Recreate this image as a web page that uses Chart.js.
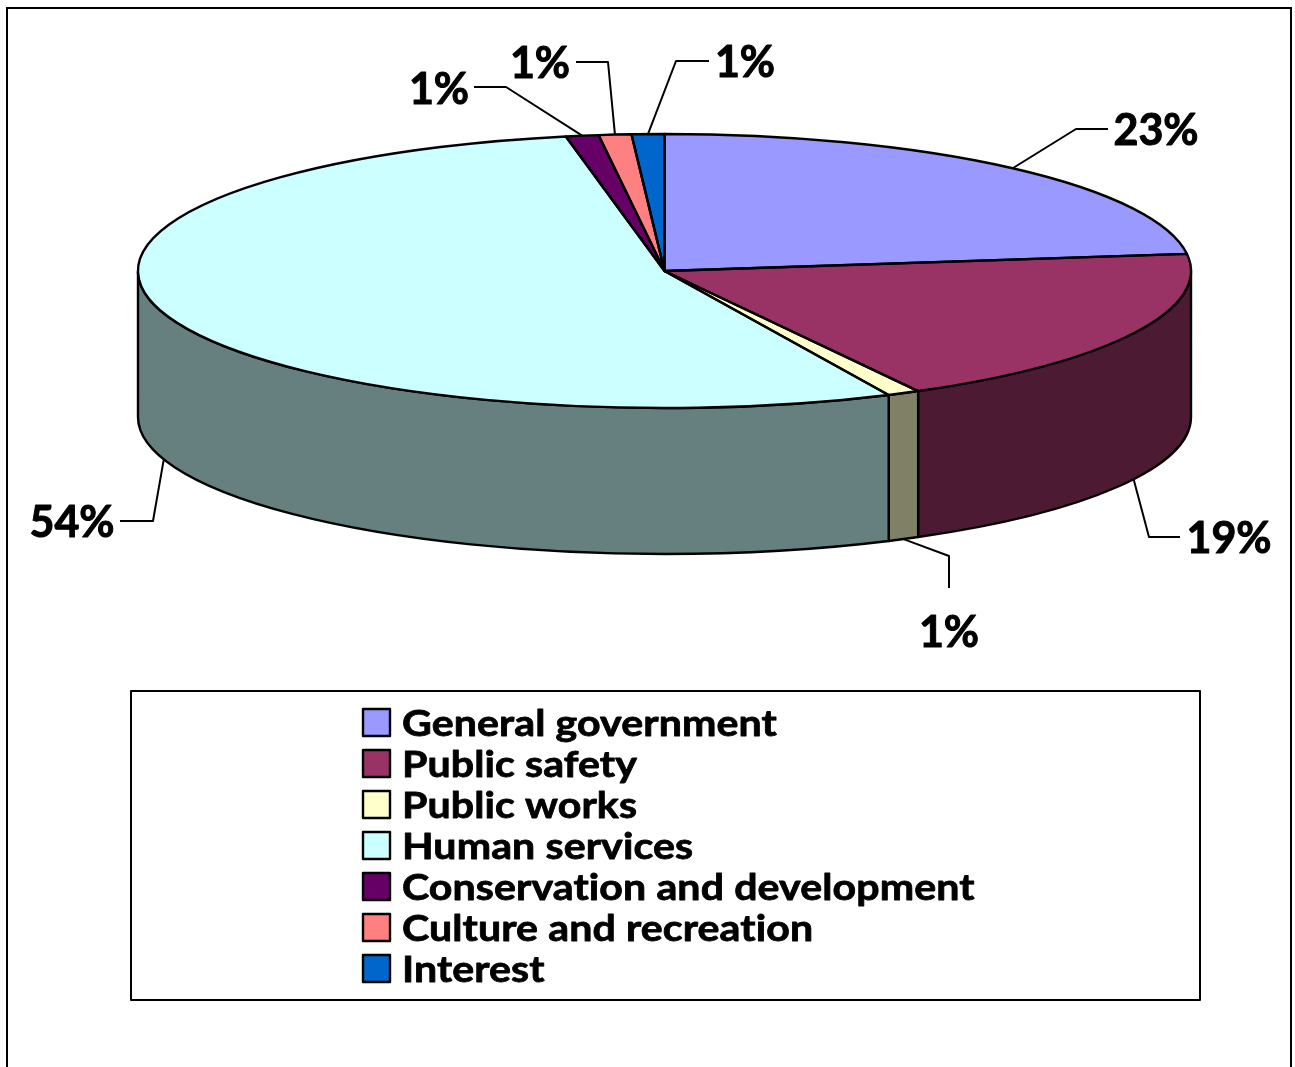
<!DOCTYPE html>
<html>
<head>
<meta charset="utf-8">
<title>Expenditures by function</title>
<style>
  html, body { margin: 0; padding: 0; background: #fff; }
  canvas { display: block; }
</style>
<script src="https://cdn.jsdelivr.net/npm/chart.js@4/dist/chart.umd.min.js"></script>
</head>
<body>
<canvas id="pie" width="1295" height="1067"></canvas>
<script>
const categories = ['General government', 'Public safety', 'Public works', 'Human services',
                    'Conservation and development', 'Culture and recreation', 'Interest'];
const shares = [23, 19, 1, 54, 1, 1, 1];
const topColors = ['#9999FF', '#993366', '#FFFFCC', '#CCFFFF', '#660066', '#FF8080', '#0066CC'];
const wallColors = ['#4D4D80', '#4D1A33', '#808066', '#668080', '#330033', '#804040', '#003366'];

// Disc geometry: the pie is laid out as a circle by Chart.js, then flattened.
const DISC_CENTER_Y = 271;
const DISC_SQUASH = 137 / 526.5;
const DISC_DEPTH = 146;
const OUTLINE_WIDTH = 2.4;
const FONT_FAMILY = 'Lato, "Open Sans", sans-serif';
const LEGEND_TEXT_STRETCH = 1.11;

// Callout layout per slice: elbow and end of the leader, centre of its label, and
// whether the leader leaves from the bottom rim of the wall.
const calloutElbows = [[1076, 129], [1149, 537], [949, 556], [153, 521], [506, 87], [608, 62], [676, 61]];
const calloutEnds = [[1108, 129], [1180, 537], [949, 588], [120, 521], [474, 87], [576, 62], [709, 61]];
const calloutLabels = [[1156, 131], [1229, 539], [949, 633], [72, 523], [439, 90], [540, 64], [745, 63]];
const calloutOnWall = [false, true, true, true, false, false, false];

function slicePath(ctx, arc) {
  const ry = arc.outerRadius * DISC_SQUASH;
  ctx.beginPath();
  ctx.moveTo(arc.x, DISC_CENTER_Y);
  ctx.ellipse(arc.x, DISC_CENTER_Y, arc.outerRadius, ry, 0, arc.startAngle, arc.endAngle);
  ctx.closePath();
}

const disc3d = {
  id: 'disc3d',
  beforeDatasetsDraw(chart) {
    const ctx = chart.ctx;
    const arcs = chart.getDatasetMeta(0).data;
    ctx.save();
    ctx.strokeStyle = '#000';
    ctx.lineWidth = OUTLINE_WIDTH;
    ctx.lineJoin = 'round';
    // Walls are only visible on the front half of the rim (0..PI in canvas angles).
    arcs.forEach((arc, i) => {
      const a0 = Math.max(arc.startAngle, 0);
      const a1 = Math.min(arc.endAngle, Math.PI);
      if (a0 >= a1) return;
      const r = arc.outerRadius, ry = r * DISC_SQUASH;
      ctx.beginPath();
      ctx.ellipse(arc.x, DISC_CENTER_Y, r, ry, 0, a0, a1);
      ctx.ellipse(arc.x, DISC_CENTER_Y + DISC_DEPTH, r, ry, 0, a1, a0, true);
      ctx.closePath();
      ctx.fillStyle = wallColors[i];
      ctx.fill();
      ctx.stroke();
    });
    ctx.restore();
    // Flatten the circular top face drawn by the library.
    const cy = arcs[0].y;
    ctx.save();
    ctx.translate(0, DISC_CENTER_Y);
    ctx.scale(1, DISC_SQUASH);
    ctx.translate(0, -cy);
  },
  afterDatasetsDraw(chart) {
    const ctx = chart.ctx;
    ctx.restore();
    const arcs = chart.getDatasetMeta(0).data;
    ctx.save();
    ctx.strokeStyle = '#000';
    ctx.lineWidth = OUTLINE_WIDTH;
    ctx.lineJoin = 'round';
    arcs.forEach(arc => { slicePath(ctx, arc); ctx.stroke(); });
    ctx.restore();
    drawCallouts(chart, arcs);
    drawLegend(ctx);
    drawFrame(ctx);
  }
};

function drawHeavyText(ctx, text, x, y) {
  ctx.fillText(text, x, y);
  ctx.strokeText(text, x, y);
}

function drawCallouts(chart, arcs) {
  const ctx = chart.ctx;
  ctx.save();
  ctx.strokeStyle = '#000';
  ctx.lineJoin = 'round';
  ctx.fillStyle = '#000';
  ctx.font = 'bold 43px ' + FONT_FAMILY;
  ctx.textAlign = 'center';
  ctx.textBaseline = 'middle';
  arcs.forEach((arc, i) => {
    const mid = (arc.startAngle + arc.endAngle) / 2;
    const x = arc.x + arc.outerRadius * Math.cos(mid);
    const y = DISC_CENTER_Y + arc.outerRadius * DISC_SQUASH * Math.sin(mid)
            + (calloutOnWall[i] ? DISC_DEPTH : 0);
    ctx.lineWidth = 2;
    ctx.beginPath();
    ctx.moveTo(x, y);
    ctx.lineTo(calloutElbows[i][0], calloutElbows[i][1]);
    ctx.lineTo(calloutEnds[i][0], calloutEnds[i][1]);
    ctx.stroke();
    ctx.lineWidth = 1;
    drawHeavyText(ctx, shares[i] + '%', calloutLabels[i][0], calloutLabels[i][1]);
  });
  ctx.restore();
}

function drawLegend(ctx) {
  ctx.save();
  ctx.strokeStyle = '#000';
  ctx.lineWidth = 2;
  ctx.lineJoin = 'round';
  ctx.strokeRect(131, 691, 1069, 309);
  ctx.font = 'bold 37px ' + FONT_FAMILY;
  // A small tracking value also switches off the "ti" ligature.
  ctx.letterSpacing = '0.1px';
  ctx.textBaseline = 'alphabetic';
  ctx.textAlign = 'left';
  categories.forEach((name, i) => {
    const y = 709 + i * 41;
    ctx.lineWidth = 2.4;
    ctx.fillStyle = topColors[i];
    ctx.fillRect(363, y, 27, 27);
    ctx.strokeRect(363, y, 27, 27);
    ctx.fillStyle = '#000';
    ctx.save();
    ctx.translate(402, y + 27);
    ctx.scale(LEGEND_TEXT_STRETCH, 1);
    ctx.lineWidth = 0.8;
    drawHeavyText(ctx, name, 0, 0);
    ctx.restore();
  });
  ctx.restore();
}

function drawFrame(ctx) {
  ctx.save();
  ctx.strokeStyle = '#000';
  ctx.lineWidth = 2;
  ctx.beginPath();
  ctx.moveTo(7, 1067);
  ctx.lineTo(7, 8);
  ctx.lineTo(1291, 8);
  ctx.lineTo(1291, 1067);
  ctx.stroke();
  ctx.restore();
}

new Chart(document.getElementById('pie'), {
  type: 'pie',
  data: {
    labels: categories,
    datasets: [{
      data: shares,
      backgroundColor: topColors,
      borderWidth: 0,
      clip: false
    }]
  },
  options: {
    responsive: false,
    animation: false,
    layout: { padding: { left: 138, right: 104, top: 7, bottom: 7 } },
    plugins: { legend: { display: false }, tooltip: { enabled: false }, title: { display: false } }
  },
  plugins: [disc3d]
});
</script>
</body>
</html>
